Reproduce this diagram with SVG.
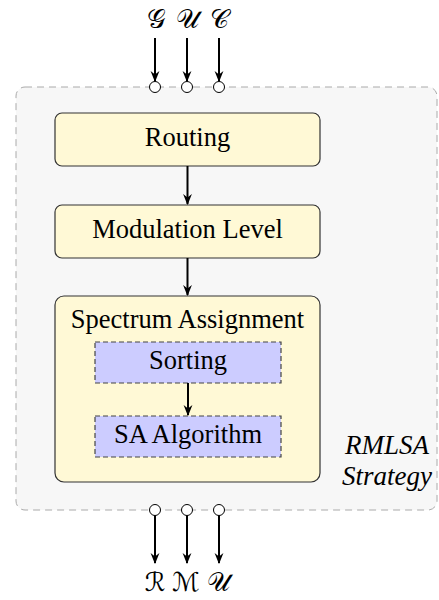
<svg xmlns="http://www.w3.org/2000/svg" width="439" height="600" viewBox="0 0 439 600">
  <style>
    text { font-family: 'Liberation Serif', serif; }
    .lbl { font-size: 26.5px; fill: #000; text-anchor: middle; }
    .it { font-style: italic; font-size: 27px; }
    .math { font-family: 'DejaVu Sans', serif; font-size: 26px; fill: #000; text-anchor: middle; }
    .stage { fill: #fff9d6; stroke: #333; stroke-width: 1.2; }
    .sub { fill: #ccccff; stroke: #444; stroke-width: 1.2; stroke-dasharray: 5 3; }
    .port { fill: #fff; stroke: #000; stroke-width: 1; }
    .wire { stroke: #000; stroke-width: 2; fill: none; marker-end: url(#head); }
  </style>
  <defs>
    <marker id="head" viewBox="0 0 10 10" refX="9" refY="5" markerWidth="5.5" markerHeight="5.5" orient="auto" markerUnits="strokeWidth">
      <path d="M0,1 L10,5 L0,9 L3,5 Z" fill="#000"/>
    </marker>
  </defs>

  <!-- strategy container -->
  <g id="strategy">
    <rect x="16" y="87" width="421" height="423" rx="9" fill="#f7f7f7" stroke="#aaa" stroke-width="1" stroke-dasharray="7 5"/>
    <text class="lbl it" x="387" y="454">RMLSA</text>
    <text class="lbl it" x="387" y="485">Strategy</text>
  </g>

  <g id="routing">
    <rect class="stage" x="55" y="113" width="265" height="53" rx="7"/>
    <text class="lbl" x="187.5" y="146">Routing</text>
  </g>

  <g id="modulation">
    <rect class="stage" x="55" y="205" width="265" height="53" rx="7"/>
    <text class="lbl" x="187.5" y="238">Modulation Level</text>
  </g>

  <g id="spectrum">
    <rect class="stage" x="55" y="296" width="265" height="186" rx="9"/>
    <text class="lbl" x="187.5" y="328">Spectrum Assignment</text>
  </g>

  <g id="sorting">
    <rect class="sub" x="95" y="342" width="186" height="41"/>
    <text class="lbl" x="188" y="369">Sorting</text>
  </g>

  <g id="sa-algorithm">
    <rect class="sub" x="95" y="416" width="186" height="41"/>
    <text class="lbl" x="188" y="443">SA Algorithm</text>
  </g>

  <!-- inputs and outputs -->
  <g id="inputs">
    <text class="math" x="156" y="28">𝒢</text>
    <text class="math" x="187.5" y="28">𝒰</text>
    <text class="math" x="219.5" y="28">𝒞</text>
  </g>
  <g id="outputs">
    <text class="math" x="155" y="591">ℛ</text>
    <text class="math" x="186" y="591">ℳ</text>
    <text class="math" x="218" y="591">𝒰</text>
  </g>

  <g id="connectors">
    <line class="wire" x1="155" y1="38" x2="155" y2="81"/>
    <line class="wire" x1="187" y1="38" x2="187" y2="81"/>
    <line class="wire" x1="219" y1="38" x2="219" y2="81"/>
    <line class="wire" x1="187.5" y1="166" x2="187.5" y2="204"/>
    <line class="wire" x1="187.5" y1="258" x2="187.5" y2="295"/>
    <line class="wire" x1="188" y1="383" x2="188" y2="415"/>
    <line class="wire" x1="155" y1="515" x2="155" y2="563"/>
    <line class="wire" x1="187" y1="515" x2="187" y2="563"/>
    <line class="wire" x1="219" y1="515" x2="219" y2="563"/>
  </g>

  <g id="ports">
    <circle class="port" cx="155" cy="87" r="5.5"/>
    <circle class="port" cx="187" cy="87" r="5.5"/>
    <circle class="port" cx="219" cy="87" r="5.5"/>
    <circle class="port" cx="155" cy="510" r="5.5"/>
    <circle class="port" cx="187" cy="510" r="5.5"/>
    <circle class="port" cx="219" cy="510" r="5.5"/>
  </g>
</svg>
